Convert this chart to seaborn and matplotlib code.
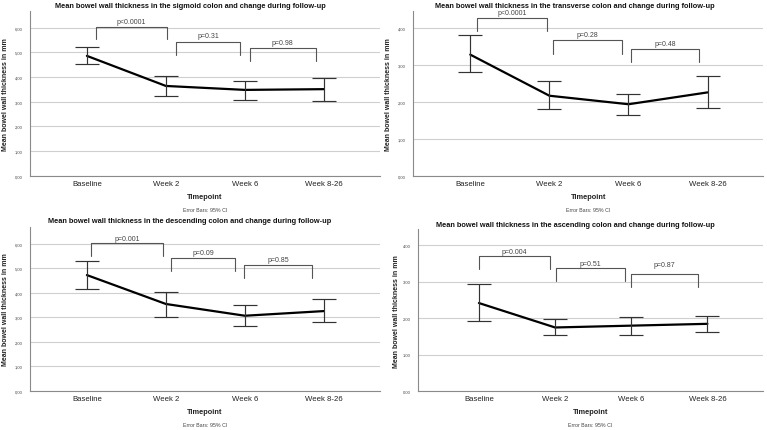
import matplotlib
matplotlib.use("Agg")
import matplotlib.pyplot as plt
import seaborn as sns
import pandas as pd
import numpy as np

W, H = 767, 431

timepoints = ["Baseline", "Week 2", "Week 6", "Week 8-26"]

# means and 95% CI bounds (mm)
sigmoid_mean = [4.86, 3.64, 3.48, 3.51]
sigmoid_lo = [4.55, 3.24, 3.09, 3.04]
sigmoid_hi = [5.21, 4.05, 3.86, 3.97]
sigmoid_p = ["p<0.0001", "p=0.31", "p=0.98"]

transverse_mean = [3.27, 2.16, 1.93, 2.25]
transverse_lo = [2.79, 1.79, 1.63, 1.82]
transverse_hi = [3.79, 2.56, 2.21, 2.69]
transverse_p = ["p<0.0001", "p=0.28", "p=0.48"]

descending_mean = [4.72, 3.54, 3.06, 3.25]
descending_lo = [4.14, 3.02, 2.63, 2.79]
descending_hi = [5.28, 4.03, 3.51, 3.74]
descending_p = ["p=0.001", "p=0.09", "p=0.85"]

ascending_mean = [2.42, 1.75, 1.80, 1.85]
ascending_lo = [1.92, 1.53, 1.55, 1.62]
ascending_hi = [2.95, 1.99, 2.04, 2.07]
ascending_p = ["p=0.004", "p=0.51", "p=0.87"]

panels = [
    dict(name="sigmoid", mean=sigmoid_mean, lo=sigmoid_lo, hi=sigmoid_hi, p=sigmoid_p,
         box=(30, 12, 380, 176.7), ylim=6.68, xlim=(-0.72, 3.71), dec=",", ylab_x=6, title_y=6.7,
         brk=[(0.11, 1.02, 6.05, 5.53, 6.25), (1.13, 1.94, 5.44, 4.91, 5.67), (2.06, 2.90, 5.16, 4.66, 5.40)]),
    dict(name="transverse", mean=transverse_mean, lo=transverse_lo, hi=transverse_hi, p=transverse_p,
         box=(413.3, 12.3, 763, 176.7), ylim=4.44, xlim=(-0.72, 3.70), dec=",", ylab_x=389, title_y=6.3,
         brk=[(0.08, 0.97, 4.26, 3.90, 4.40), (1.05, 1.92, 3.66, 3.29, 3.80), (2.03, 2.89, 3.42, 3.06, 3.57)]),
    dict(name="descending", mean=descending_mean, lo=descending_lo, hi=descending_hi, p=descending_p,
         box=(30, 228.3, 380, 391.7), ylim=6.67, xlim=(-0.72, 3.71), dec=",", ylab_x=6, title_y=221.7,
         brk=[(0.05, 0.96, 6.02, 5.49, 6.23), (1.06, 1.88, 5.40, 4.87, 5.65), (1.99, 2.85, 5.14, 4.61, 5.36)]),
    dict(name="ascending", mean=ascending_mean, lo=ascending_lo, hi=ascending_hi, p=ascending_p,
         box=(418, 230, 763, 392.3), ylim=4.45, xlim=(-0.80, 3.73), dec=".", ylab_x=396, title_y=225.7,
         brk=[(0.0, 0.93, 3.70, 3.34, 3.84), (1.01, 1.92, 3.37, 3.03, 3.51), (2.0, 2.87, 3.21, 2.86, 3.47)]),
]

sns.set_theme(style="white")
plt.rcParams["font.family"] = ["Liberation Sans", "DejaVu Sans"]

fig = plt.figure(figsize=(W / 100, H / 100), dpi=100)
fig.patch.set_facecolor("white")

for i, pn in enumerate(panels):
    l, t, r, b = pn["box"]
    ax = fig.add_axes([l / W, 1 - b / H, (r - l) / W, (b - t) / H])
    df = pd.DataFrame({"Timepoint": timepoints, "Mean": pn["mean"]})

    sns.lineplot(data=df, x="Timepoint", y="Mean", ax=ax, color="black", linewidth=1.6, sort=False)
    mean = np.array(pn["mean"])
    yerr = [mean - np.array(pn["lo"]), np.array(pn["hi"]) - mean]
    ax.errorbar(timepoints, mean, yerr=yerr, fmt="none", ecolor="#333333",
                elinewidth=0.85, capsize=8.5, capthick=0.85, zorder=3)

    # significance brackets
    for (x0, x1, top, leg, ty), lab in zip(pn["brk"], pn["p"]):
        ax.plot([x0, x0, x1, x1], [leg, top, top, leg], color="#555555", lw=0.8, clip_on=False)
        ax.text((x0 + x1) / 2, ty, lab, ha="center", va="center", fontsize=5.0, color="#444444")

    ax.set_xlim(*pn["xlim"])
    ax.set_ylim(0, pn["ylim"])
    yt = np.arange(0, int(pn["ylim"]) + 1)
    ax.set_yticks(yt)
    ax.set_yticklabels([f"{v:.2f}".replace(".", pn["dec"]) for v in yt], fontsize=3.0, color="#444444")
    ax.tick_params(axis="y", length=0, pad=5.5)
    ax.tick_params(axis="x", length=0, pad=3, labelsize=5.6, labelcolor="#222222")
    ax.yaxis.grid(True, color="#cfcfcf", lw=0.8)
    ax.set_axisbelow(True)
    for s in ["top", "right"]:
        ax.spines[s].set_visible(False)
    for s in ["left", "bottom"]:
        ax.spines[s].set_color("#8a8a8a")
        ax.spines[s].set_linewidth(0.8)
    ax.set_xlabel("")
    ax.set_ylabel("")

    ax.text(0.5, -0.125, "Timepoint", transform=ax.transAxes, ha="center", va="center",
            fontsize=5.3, fontweight="bold", color="#222222")
    ax.text(0.5, -0.206, "Error Bars: 95% CI", transform=ax.transAxes, ha="center", va="center",
            fontsize=3.8, color="#444444")

    fig.text(pn["ylab_x"] / W, 1 - (t + b) / 2 / H, "Mean bowel wall thickness in mm", rotation=90,
             ha="center", va="center", fontsize=5.0, fontweight="bold", color="#222222")
    cx = 190 if i % 2 == 0 else 575
    fig.text(cx / W, 1 - pn["title_y"] / H,
             f"Mean bowel wall thickness in the {pn['name']} colon and change during follow-up",
             ha="center", va="center", fontsize=5.3, fontweight="bold", color="#111111")

fig.savefig("out.png", dpi=100, facecolor="white")
